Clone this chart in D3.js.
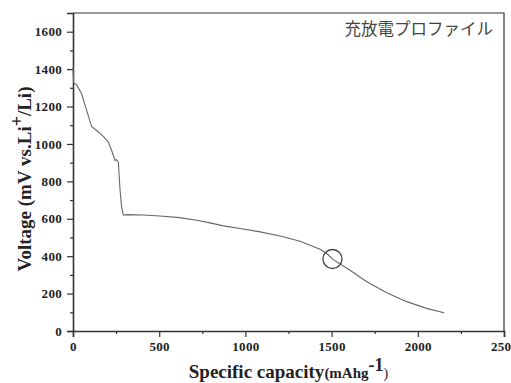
<!DOCTYPE html>
<html><head><meta charset="utf-8">
<script src="https://cdn.jsdelivr.net/npm/d3@7"></script>
<style>body{margin:0;background:#fff}svg{display:block}</style>
</head><body>
<svg id="c" width="511" height="383"></svg>
<script>
const capacity = [0, 4, 20, 50, 79, 108, 137, 176, 205, 224, 244, 253, 263, 273, 282, 292, 311, 408, 505, 620, 717, 795, 872, 969, 1085, 1201, 1317, 1433, 1472, 1506, 1607, 1704, 1820, 1936, 2051, 2152];
const voltage  = [1410, 1325, 1318, 1268, 1179, 1093, 1072, 1040, 1010, 965, 912, 916, 903, 752, 663, 619, 622, 620, 615, 606, 592, 578, 562, 548, 530, 508, 480, 437, 414, 384, 325, 263, 204, 157, 121, 98];
const markerCapacity = [1505];
const markerVoltage = [385];
const xTicks = [0, 500, 1000, 1500, 2000, 2500];
const yTicks = [0, 200, 400, 600, 800, 1000, 1200, 1400, 1600];
const xMinor = [250, 750, 1250, 1750, 2250];
const yMinor = [100, 300, 500, 700, 900, 1100, 1300, 1500, 1700];
const title = "充放電プロファイル";

const svg = d3.select("#c");
const L = 73, R = 504, T = 13, B = 331;
const x = d3.scaleLinear().domain([0, 2500]).range([L, R]);
const y = d3.scaleLinear().domain([0, 1700]).range([B, T]);
const axisCol = "#333";
const serif = "'Liberation Serif','Times New Roman',serif";

// frame
svg.append("path").attr("d", `M${L},${T}H${R}V${B}`).attr("fill", "none").attr("stroke", axisCol).attr("stroke-width", 1.2);

// axes
const gx = svg.append("g").attr("transform", `translate(0,${B})`)
  .call(d3.axisBottom(x).tickValues(xTicks).tickSize(6).tickPadding(5).tickFormat(d3.format("d")));
const gxm = svg.append("g").attr("transform", `translate(0,${B})`)
  .call(d3.axisBottom(x).tickValues(xMinor).tickSize(3).tickFormat(""));
const gy = svg.append("g").attr("transform", `translate(${L},0)`)
  .call(d3.axisLeft(y).tickValues(yTicks).tickSize(6).tickPadding(5).tickFormat(d3.format("d")));
const gym = svg.append("g").attr("transform", `translate(${L},0)`)
  .call(d3.axisLeft(y).tickValues(yMinor).tickSize(3).tickFormat(""));
[gx, gxm, gy, gym].forEach(g => {
  g.select(".domain").attr("stroke", axisCol).attr("stroke-width", 1.6);
  g.selectAll(".tick line").attr("stroke", axisCol).attr("stroke-width", 1.2);
  g.selectAll("text").attr("font-family", serif).attr("font-weight", "bold")
    .attr("font-size", 13).attr("fill", "#222").attr("letter-spacing", "0.3px");
});
gym.select(".domain").remove(); gxm.select(".domain").remove();

// curve
const pts = capacity.map((c, i) => [c, voltage[i]]);
svg.append("path").datum(pts)
  .attr("d", d3.line().x(d => x(d[0])).y(d => y(d[1])))
  .attr("fill", "none").attr("stroke", "#666").attr("stroke-width", 1.1);

// marker circle
svg.selectAll("circle.m").data(markerCapacity).enter().append("circle")
  .attr("cx", (d) => x(d)).attr("cy", (d, i) => y(markerVoltage[i])).attr("r", 9.5)
  .attr("fill", "none").attr("stroke", "#444").attr("stroke-width", 1.3);

// title
svg.append("text").attr("x", 493).attr("y", 35).attr("text-anchor", "end")
  .attr("font-family", "'Noto Sans CJK JP',sans-serif").attr("font-size", 16.5)
  .attr("fill", "#444").text(title);

// x title
const xt = svg.append("text").attr("x", (L + R) / 2).attr("y", 378).attr("text-anchor", "middle")
  .attr("font-family", serif).attr("font-weight", "bold").attr("fill", "#222");
xt.append("tspan").attr("font-size", 19).text("Specific capacity");
xt.append("tspan").attr("font-size", 15).text("(mAhg");
xt.append("tspan").attr("font-size", 18).attr("dy", -7).text("-1");
xt.append("tspan").attr("font-size", 14).attr("font-weight", "normal").attr("dy", 7).text(")");

// y title
const yt = svg.append("text").attr("transform", `translate(31,${(T + B) / 2 + 7}) rotate(-90)`)
  .attr("text-anchor", "middle").attr("font-family", serif).attr("font-weight", "bold")
  .attr("font-size", 19).attr("fill", "#222");
yt.append("tspan").text("Voltage (mV vs.Li");
yt.append("tspan").attr("dy", -8).attr("font-size", 18).text("+");
yt.append("tspan").attr("dy", 8).text("/Li)");
</script>
</body></html>
